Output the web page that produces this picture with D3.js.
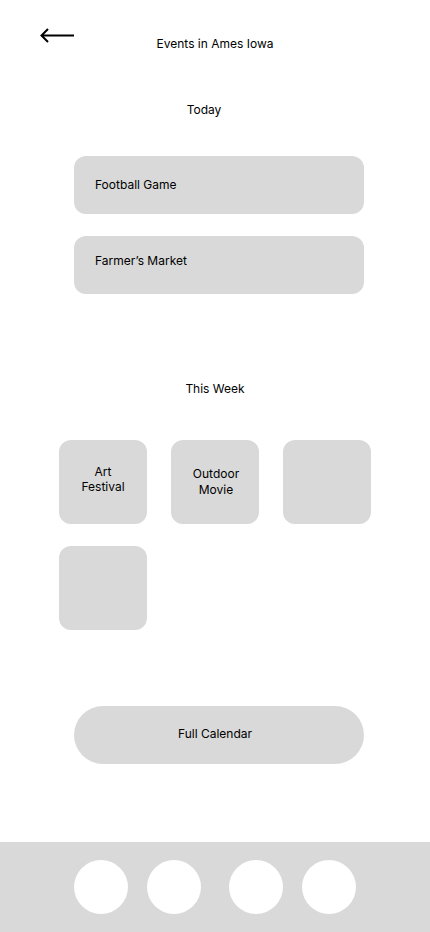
<!DOCTYPE html>
<html>
<head>
<meta charset="utf-8">
<script src="https://cdn.jsdelivr.net/npm/d3@7/dist/d3.min.js"></script>
<style>
  html, body { margin: 0; padding: 0; background: #fff; }
  svg { display: block; font-family: Inter, "Noto Sans", sans-serif; }
</style>
</head>
<body>
<div id="screen"></div>
<script>
'use strict';

var title = 'Events in Ames Iowa';
var todayLabel = 'Today';
var weekLabel = 'This Week';
var todayEvents = ['Football Game', 'Farmer\u2019s Market'];
var weekEvents = [['Art', 'Festival'], ['Outdoor', 'Movie'], [], []];
var calendarLabel = 'Full Calendar';
var navItems = ['home', 'search', 'saved', 'profile'];

var width = 430;
var height = 932;
var grey = '#d9d9d9';

var svg = d3.select('#screen').append('svg').attr('width', width).attr('height', height);

// back arrow
var arrow = d3.path();
arrow.moveTo(74, 35.5); arrow.lineTo(41, 35.5);
arrow.moveTo(48, 29); arrow.lineTo(41.5, 35.5); arrow.lineTo(48, 42);
svg.append('path').attr('d', arrow.toString()).attr('fill', 'none')
    .attr('stroke', '#000').attr('stroke-width', 2);

svg.append('text').attr('x', 215).attr('y', 43.5).attr('text-anchor', 'middle')
    .attr('dominant-baseline', 'central').attr('font-size', 12).text(title);

svg.append('text').attr('x', 204).attr('y', 109.5).attr('text-anchor', 'middle')
    .attr('dominant-baseline', 'central').attr('font-size', 12).text(todayLabel);

// today cards (label sits a little higher in the second card)
var yToday = d3.scaleBand().domain(todayEvents).range([156, 294]).paddingInner(22 / 80);
var labelDy = [28.5, 24.5];

var today = svg.append('g').selectAll('g').data(todayEvents).join('g')
    .attr('transform', function (d) { return 'translate(74,' + yToday(d) + ')'; });
today.append('rect').attr('width', 290).attr('height', yToday.bandwidth())
    .attr('rx', 12).attr('fill', grey);
today.append('text').attr('x', 21).attr('y', function (d, i) { return labelDy[i]; })
    .attr('dominant-baseline', 'central').attr('font-size', 12).text(function (d) { return d; });

svg.append('text').attr('x', 215).attr('y', 388.5).attr('text-anchor', 'middle')
    .attr('dominant-baseline', 'central').attr('font-size', 12).text(weekLabel);

// this week grid
var cols = 3;
var xWeek = d3.scaleBand().domain(d3.range(cols)).range([59, 371]).paddingInner(24 / 112);
var yWeek = d3.scaleBand().domain(d3.range(Math.ceil(weekEvents.length / cols))).range([440, 630]).paddingInner(22 / 106);

var week = svg.append('g').selectAll('g').data(weekEvents).join('g')
    .attr('transform', function (d, i) {
        return 'translate(' + xWeek(i % cols) + ',' + yWeek(Math.floor(i / cols)) + ')';
    });
week.append('rect').attr('width', xWeek.bandwidth()).attr('height', yWeek.bandwidth())
    .attr('rx', 12).attr('fill', grey);
week.each(function (lines, i) {
    var g = d3.select(this);
    var cy = i === 0 ? 39 : 41.5;
    lines.forEach(function (line, j) {
        g.append('text').attr('x', xWeek.bandwidth() / 2 + (i === 0 ? 0 : 1))
            .attr('y', cy + (j - (lines.length - 1) / 2) * 15.5)
            .attr('text-anchor', 'middle').attr('dominant-baseline', 'central')
            .attr('font-size', 12).text(line);
    });
});

// full calendar button
svg.append('rect').attr('x', 74).attr('y', 706).attr('width', 290).attr('height', 58)
    .attr('rx', 29).attr('fill', grey);
svg.append('text').attr('x', 215).attr('y', 733.5).attr('text-anchor', 'middle')
    .attr('dominant-baseline', 'central').attr('font-size', 12).text(calendarLabel);

// bottom nav
svg.append('rect').attr('x', 0).attr('y', 842).attr('width', width).attr('height', 90).attr('fill', grey);
var xNav = d3.scaleOrdinal().domain(navItems).range([101, 174, 256, 329]);
svg.append('g').selectAll('circle').data(navItems).join('circle')
    .attr('cx', function (d) { return xNav(d); }).attr('cy', 887).attr('r', 27).attr('fill', '#fff');
</script>
</body>
</html>
